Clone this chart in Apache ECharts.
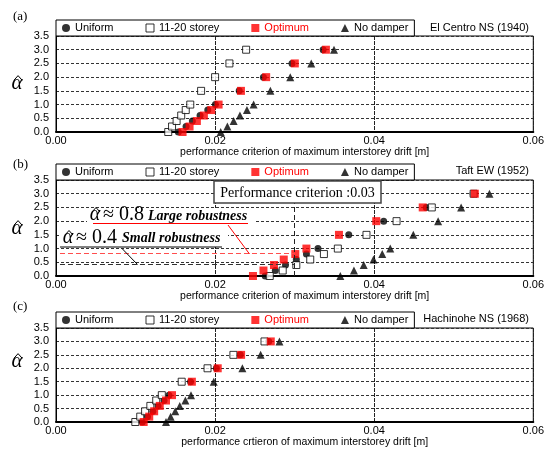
<!DOCTYPE html>
<html>
<head>
<meta charset="utf-8">
<script src="https://cdn.jsdelivr.net/npm/echarts@6/dist/echarts.min.js"></script>
<style>html,body{margin:0;padding:0;background:#fff}#c{width:547px;height:449px}</style>
</head>
<body>
<div id="c"></div>
<script>
// ---------- data ----------
const alpha = [0, 0.2, 0.4, 0.6, 0.8, 1.0, 1.5, 2.0, 2.5, 3.0];
const xTicks = [0, 0.02, 0.04, 0.06];
const yTicks = [0, 0.5, 1.0, 1.5, 2.0, 2.5, 3.0, 3.5];
const seriesNames = ['Uniform', '11-20 storey', 'Optimum', 'No damper'];
const panelLabels = ['(a)', '(b)', '(c)'];
const quakeNames = ['El Centro NS (1940)', 'Taft EW (1952)', 'Hachinohe NS (1968)'];
const xNames = ['performance criterion of maximum interstorey drift [m]',
                'performance criterion of maximum interstorey drift [m]',
                'performance crtieron of maximum interstorey drift [m]'];

// (a) El Centro
const aUniform  = [0.01538,0.01635,0.01714,0.01811,0.01908,0.02004,0.02303,0.02607,0.02967,0.03358];
const aStorey   = [0.01411,0.01459,0.01516,0.01574,0.01631,0.01688,0.01824,0.02000,0.02180,0.02390];
const aOptimum  = [0.01591,0.01679,0.01771,0.01859,0.01952,0.02044,0.02325,0.02642,0.03002,0.03393];
const aNoDamper = [0.02070,0.02154,0.02233,0.02312,0.02400,0.02484,0.02695,0.02945,0.03209,0.03495];
// (b) Taft
const bUniform  = [0.02630,0.02757,0.02885,0.03021,0.03148,0.03293,0.03680,0.04119,0.04654,0.05243];
const bStorey   = [0.02687,0.02850,0.03021,0.03196,0.03368,0.03543,0.03903,0.04281,0.04724,0.05250];
const bOptimum  = [0.02476,0.02608,0.02740,0.02863,0.03008,0.03148,0.03557,0.04026,0.04610,0.05265];
const bNoDamper = [0.03574,0.03745,0.03868,0.03991,0.04101,0.04202,0.04492,0.04804,0.05093,0.05449];
// (c) Hachinohe
const cUniform  = [0.01085,0.01150,0.01217,0.01283,0.01358,0.01420,0.01691,0.02016,0.02316,0.02674];
const cStorey   = [0.00997,0.01059,0.01120,0.01186,0.01260,0.01330,0.01580,0.01905,0.02230,0.02621];
const cOptimum  = [0.01102,0.01172,0.01234,0.01304,0.01383,0.01458,0.01708,0.02033,0.02327,0.02700];
const cNoDamper = [0.01383,0.01441,0.01499,0.01556,0.01626,0.01697,0.01983,0.02343,0.02572,0.02809];

// annotation values for panel (b)
const criterion = 0.03;
const largeAlpha = 0.83;
const smallAlpha = 0.42;
const largeText = '≈ 0.8';
const smallText = '≈ 0.4';

const panels = [
  [aUniform, aStorey, aOptimum, aNoDamper],
  [bUniform, bStorey, bOptimum, bNoDamper],
  [cUniform, cStorey, cOptimum, cNoDamper]
];

// ---------- fonts ----------
function hasFont(f) {
  const c = document.createElement('canvas').getContext('2d');
  const s = '11-20 storey Uniform';
  c.font = '40px monospace';
  const w1 = c.measureText(s).width;
  c.font = "40px '" + f + "', monospace";
  return c.measureText(s).width !== w1;
}
const NARROW = hasFont('Liberation Sans Narrow');
const SANS = NARROW ? "'Liberation Sans Narrow', 'Liberation Sans', sans-serif" : "'Liberation Sans', Arial, sans-serif";
const FS = NARROW ? 12.5 : 10.5;
const SERIF = "'Liberation Serif', 'DejaVu Serif', serif";

// ---------- layout ----------
const gridTops = [36, 180, 328];
const gridHeights = [96, 96, 94.5];
const styles = [
  { symbol: 'circle', symbolSize: 7, itemStyle: { color: '#000' } },
  { symbol: 'rect', symbolSize: 7, itemStyle: { color: '#fff', borderColor: '#000', borderWidth: 1 } },
  { symbol: 'rect', symbolSize: 8, itemStyle: { color: '#ff0000' } },
  { symbol: 'triangle', symbolSize: 8, itemStyle: { color: '#000' } }
];

const grid = gridTops.map((t, i) => ({
  left: 56, right: 12, top: t, height: gridHeights[i],
  show: true, borderColor: '#000', borderWidth: 1, backgroundColor: '#fff'
}));

const xAxis = gridTops.map((t, i) => ({
  type: 'value', gridIndex: i, min: xTicks[0], max: xTicks[xTicks.length - 1], interval: 0.02,
  axisLine: { show: true, lineStyle: { color: '#000', width: 2 } },
  axisTick: { show: false },
  axisLabel: { margin: 3, color: '#000', fontFamily: SANS, fontSize: FS + 0.5, formatter: v => v.toFixed(2) },
  splitLine: { show: true, lineStyle: { color: '#222', width: 1, type: [4, 1] } },
  name: xNames[i], nameLocation: 'middle', nameGap: 15,
  nameTextStyle: { color: '#000', fontFamily: SANS, fontSize: FS, padding: [0, 0, 0, 20] }
}));

const yAxis = gridTops.map((t, i) => ({
  type: 'value', gridIndex: i, min: yTicks[0], max: yTicks[yTicks.length - 1], interval: 0.5,
  axisLine: { show: true, lineStyle: { color: '#000', width: 1 } },
  axisTick: { show: false },
  axisLabel: { margin: 7, color: '#000', fontFamily: SANS, fontSize: FS + 0.5, padding: [0, 0, 8, 0],
               formatter: v => v.toFixed(1) },
  splitLine: { show: true, lineStyle: { color: '#333', width: 1, type: [3, 2] } }
}));

const series = [];
panels.forEach((p, i) => {
  p.forEach((xs, k) => {
    series.push(Object.assign({
      type: 'scatter', name: seriesNames[k], xAxisIndex: i, yAxisIndex: i,
      data: alpha.map((a, j) => [xs[j], a]), silent: true, z: 3
    }, styles[k]));
  });
});
// dashed reference lines in panel (b)
function refLine(name, p1, p2, color, width) {
  return {
    type: 'line', name, xAxisIndex: 1, yAxisIndex: 1, data: [], silent: true, z: 2,
    markLine: {
      silent: true, symbol: 'none', label: { show: false }, animation: false,
      lineStyle: { color, type: [5, 3], width },
      data: [[{ coord: p1 }, { coord: p2 }]]
    }
  };
}
series.push(refLine('refV', [criterion, 0], [criterion, 3.5], '#222', 1));
series.push(refLine('refL', [0.0005, largeAlpha], [criterion, largeAlpha], '#ff4d4d', 1.2));
series.push(refLine('refS', [0.0005, smallAlpha], [criterion, smallAlpha], '#333', 1.2));

const legend = gridTops.map((t, i) => ({
  left: 56, top: t - 16, orient: 'horizontal',
  itemGap: 32, itemWidth: 8, itemHeight: 8,
  padding: [1, 6, 1, 6], borderColor: '#000', borderWidth: 1, backgroundColor: '#fff',
  selectedMode: false,
  textStyle: { color: '#000', fontFamily: SANS, fontSize: FS + 0.5, lineHeight: 14 },
  data: [
    { name: 'Uniform', icon: 'circle', itemStyle: { color: '#000' } },
    { name: '11-20 storey', icon: 'rect', itemStyle: { color: '#fff', borderColor: '#000', borderWidth: 1 } },
    { name: 'Optimum', icon: 'rect', itemStyle: { color: '#ff0000' }, textStyle: { color: '#ff0000' } },
    { name: 'No damper', icon: 'triangle', itemStyle: { color: '#000' } }
  ]
}));

// alpha-hat glyph: italic alpha with a drawn circumflex above it
function alphaHat(x, m, size) {
  const s = size / 20;
  return [
    { type: 'text', z: 50, style: { x: x, y: m, text: 'α', fill: '#000',
      font: 'italic ' + size + 'px ' + SERIF, align: 'center', verticalAlign: 'middle' } },
    { type: 'polyline', z: 50, shape: { points: [[x - 3 * s, m - 3 * s], [x + 1 * s, m - 7.5 * s], [x + 5 * s, m - 3 * s]] },
      style: { stroke: '#000', lineWidth: 1, fill: null } }
  ];
}

const labelY = [17, 165, 307];
const quakeY = [28, 171, 319];
const alphaY = [83.5, 228.5, 361.5];
const graphic = [];
for (let i = 0; i < 3; i++) {
  graphic.push({ type: 'text', z: 50, style: { x: 13, y: labelY[i], text: panelLabels[i], fill: '#000',
    font: '13px ' + SERIF, align: 'left', verticalAlign: 'middle' } });
  graphic.push({ type: 'text', z: 50, style: { x: 529, y: quakeY[i], text: quakeNames[i], fill: '#000',
    font: (FS + 0.5) + 'px ' + SANS, align: 'right', verticalAlign: 'middle' } });
  graphic.push(...alphaHat(17, alphaY[i], 21));
}
// panel (b) annotations
graphic.push(
  { type: 'rect', z: 40, shape: { x: 87, y: 208, width: 168, height: 16 }, style: { fill: '#fff' } },
  { type: 'rect', z: 40, shape: { x: 60, y: 224, width: 168, height: 23 }, style: { fill: '#fff' } },
  { type: 'rect', z: 41, shape: { x: 214, y: 181, width: 167, height: 22 },
    style: { fill: '#fff', stroke: '#444', lineWidth: 1.5 } },
  { type: 'text', z: 42, style: { x: 297.5, y: 193, text: 'Performance criterion :0.03', fill: '#000',
    font: '14px ' + SERIF, align: 'center', verticalAlign: 'middle' } },
  ...alphaHat(95, 215, 20),
  { type: 'text', z: 42, style: { x: 103, y: 215, text: largeText, fill: '#000',
    font: '20px ' + SERIF, align: 'left', verticalAlign: 'middle' } },
  { type: 'text', z: 42, style: { x: 148, y: 216, text: 'Large robustness', fill: '#000',
    font: 'italic bold 14px ' + SERIF, align: 'left', verticalAlign: 'middle' } },
  { type: 'line', z: 42, shape: { x1: 93, y1: 223.5, x2: 248, y2: 223.5 }, style: { stroke: '#ff0000', lineWidth: 1 } },
  { type: 'line', z: 42, shape: { x1: 228, y1: 225, x2: 249.5, y2: 254 }, style: { stroke: '#ff0000', lineWidth: 1 } },
  ...alphaHat(68, 238, 20),
  { type: 'text', z: 42, style: { x: 76, y: 238, text: smallText, fill: '#000',
    font: '20px ' + SERIF, align: 'left', verticalAlign: 'middle' } },
  { type: 'text', z: 42, style: { x: 122, y: 238, text: 'Small robustness', fill: '#000',
    font: 'italic bold 14px ' + SERIF, align: 'left', verticalAlign: 'middle' } },
  { type: 'line', z: 42, shape: { x1: 60, y1: 247, x2: 222, y2: 247 }, style: { stroke: '#000', lineWidth: 1 } },
  { type: 'line', z: 42, shape: { x1: 122, y1: 248.5, x2: 137.5, y2: 264.5 }, style: { stroke: '#000', lineWidth: 1 } }
);

const chart = echarts.init(document.getElementById('c'), null, { renderer: 'canvas' });
chart.setOption({
  animation: false,
  backgroundColor: '#fff',
  grid, xAxis, yAxis, legend, series, graphic
});
</script>
</body>
</html>
